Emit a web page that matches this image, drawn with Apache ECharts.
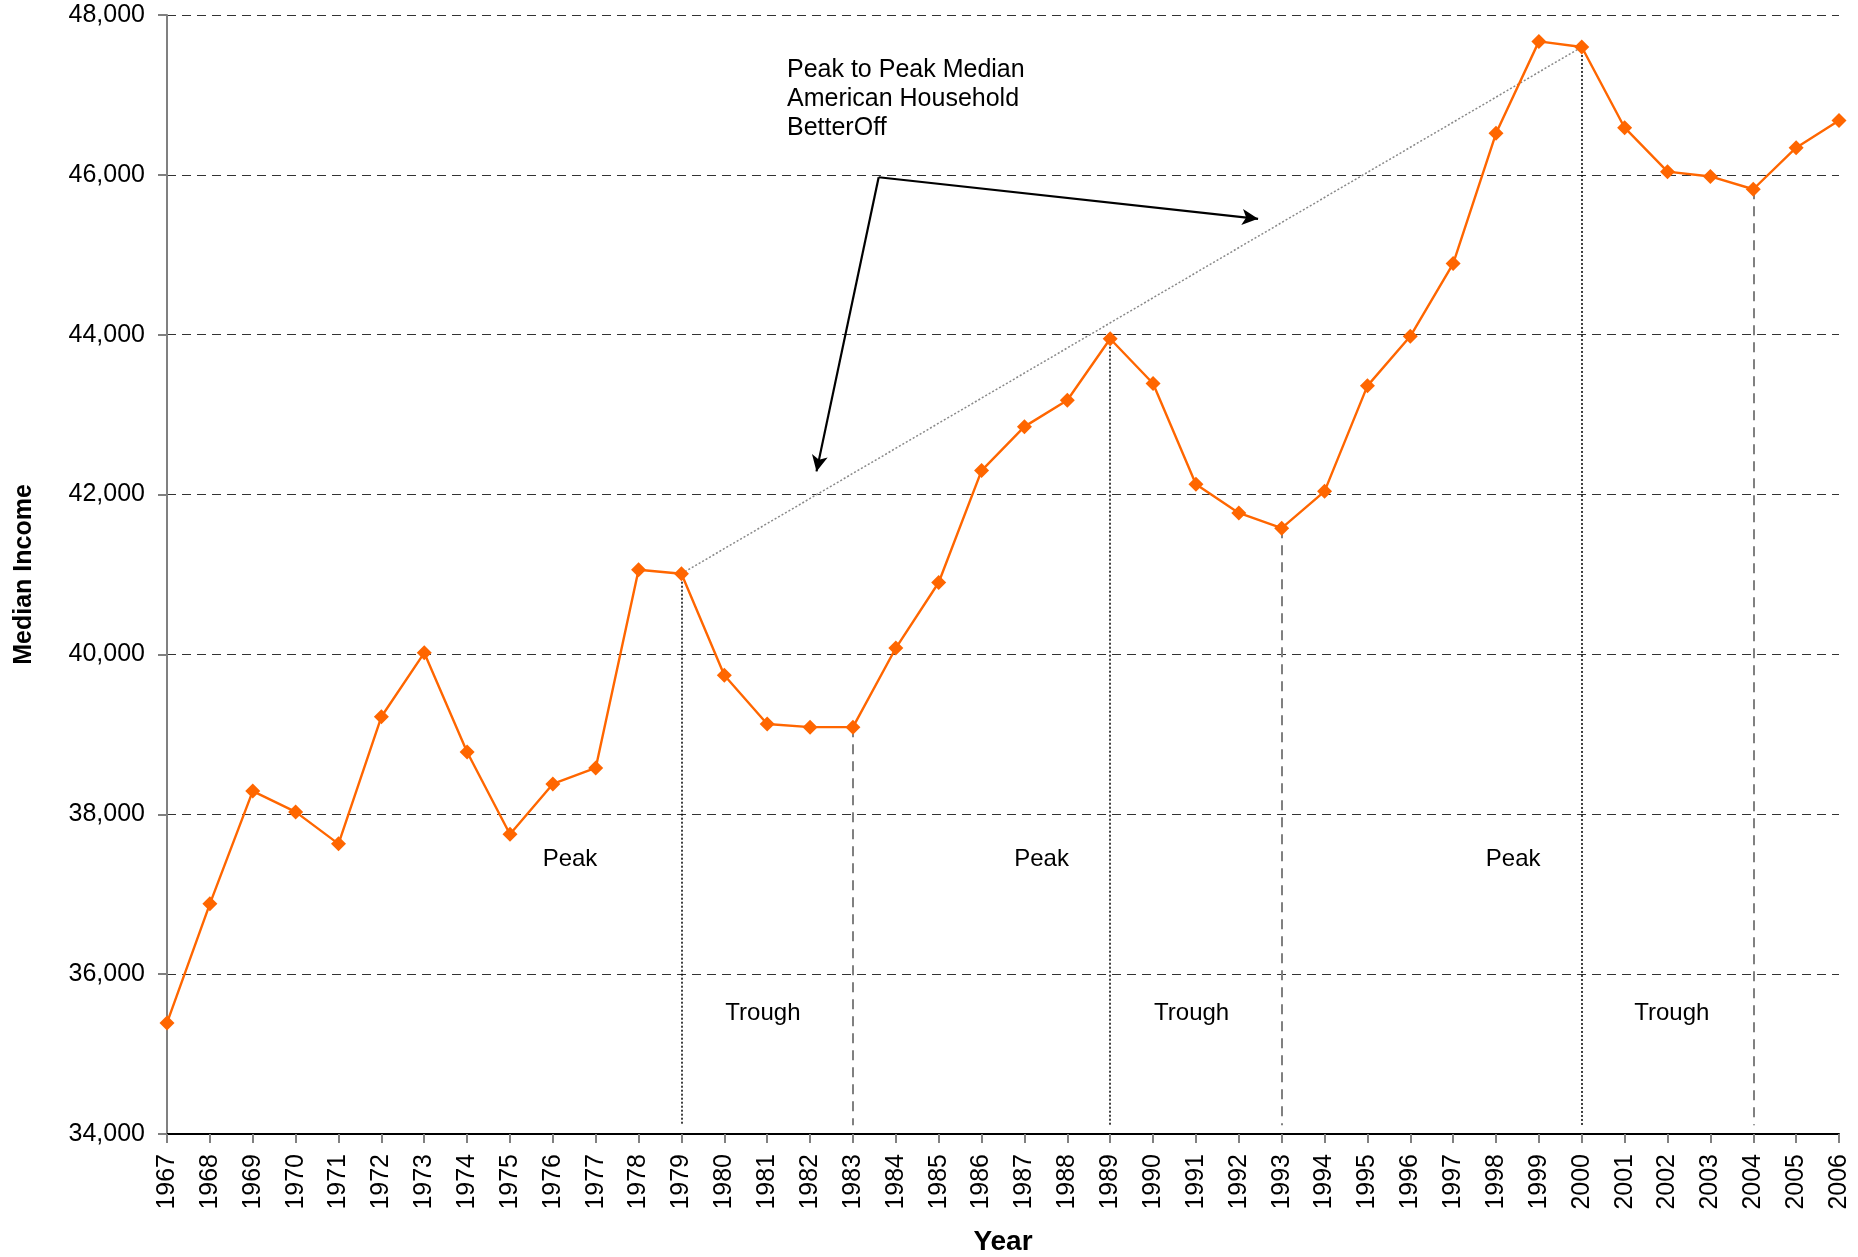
<!DOCTYPE html>
<html>
<head>
<meta charset="utf-8">
<script src="https://cdn.jsdelivr.net/npm/echarts@6/dist/echarts.min.js"></script>
<style>
  html, body { margin: 0; padding: 0; background: #fff; }
  #main { width: 1858px; height: 1257px; }
</style>
</head>
<body>
<div id="main"></div>
<script>
// median household income by year
var years = [1967, 1968, 1969, 1970, 1971, 1972, 1973, 1974, 1975, 1976,
             1977, 1978, 1979, 1980, 1981, 1982, 1983, 1984, 1985, 1986,
             1987, 1988, 1989, 1990, 1991, 1992, 1993, 1994, 1995, 1996,
             1997, 1998, 1999, 2000, 2001, 2002, 2003, 2004, 2005, 2006];
var income = [35390, 36880, 38290, 38030, 37630, 39220, 40020, 38780, 37750, 38380,
              38580, 41060, 41010, 39740, 39130, 39090, 39090, 40080, 40900, 42300,
              42850, 43180, 43950, 43390, 42130, 41770, 41580, 42040, 43360, 43980,
              44890, 46520, 47670, 47600, 46590, 46040, 45980, 45820, 46340, 46680];

var peakYears = [1979, 1989, 2000];
var troughYears = [1983, 1993, 2004];

// text labels: [x (year), y (income), text]
var phaseLabels = [
    [1976.4, 37430, 'Peak'], [1987.4, 37430, 'Peak'], [1998.4, 37430, 'Peak'],
    [1980.9, 35510, 'Trough'], [1990.9, 35510, 'Trough'], [2002.1, 35510, 'Trough']
];

// arrow: vertex and the two heads
var arrowVertex = [1983.6, 45970];
var arrowHeads = [[1982.15, 42290], [1992.45, 45450]];

var incomeOf = function (yr) { return income[years.indexOf(yr)]; };

var dropLines = [];
peakYears.forEach(function (yr) {
    dropLines.push([
        { coord: [yr, incomeOf(yr)], lineStyle: { type: [2, 2], color: '#000', width: 1.5 } },
        { coord: [yr, 34110] }
    ]);
});
troughYears.forEach(function (yr) {
    dropLines.push([
        { coord: [yr, incomeOf(yr)], lineStyle: { type: [10, 7], color: '#808080', width: 2 } },
        { coord: [yr, 34110] }
    ]);
});
// peak to peak trend
dropLines.push([
    { coord: [1979, incomeOf(1979)], lineStyle: { type: [2, 2], color: '#888', width: 1.5 } },
    { coord: [2000, incomeOf(2000)] }
]);

var arrowLines = arrowHeads.map(function (h) {
    return [{ coord: arrowVertex }, { coord: h }];
});

var myChart = echarts.init(document.getElementById('main'));
var font = '"Liberation Sans", Arial, sans-serif';

var options = {
    animation: false,
    backgroundColor: '#fff',
    textStyle: { fontFamily: font },
    grid: { left: 167, right: 19, top: 15, bottom: 123, outerBoundsMode: 'none', containLabel: false },
    xAxis: {
        type: 'value',
        min: 1967,
        max: 2006,
        interval: 1,
        name: 'Year',
        nameLocation: 'middle',
        nameGap: 94,
        nameTextStyle: { fontSize: 28, fontWeight: 'bold', color: '#000', fontFamily: font },
        axisLine: { lineStyle: { color: '#000', width: 2 } },
        axisTick: { length: 9, lineStyle: { color: '#808080', width: 2 } },
        axisLabel: { rotate: 90, fontSize: 25, color: '#000', margin: 20, fontFamily: font,
                     formatter: function (v) { return String(v); } },
        splitLine: { show: false }
    },
    yAxis: {
        type: 'value',
        min: 34000,
        max: 48000,
        interval: 2000,
        name: 'Median Income',
        nameLocation: 'middle',
        nameGap: 130,
        nameTextStyle: { fontSize: 25, fontWeight: 'bold', color: '#000', fontFamily: font },
        axisLine: { show: true, lineStyle: { color: '#808080', width: 2 } },
        axisTick: { show: true, length: 9, lineStyle: { color: '#808080', width: 2 } },
        axisLabel: { fontSize: 25, color: '#000', margin: 22, fontFamily: font,
                     formatter: function (v) { return v.toLocaleString('en-US'); } },
        splitLine: { show: true, lineStyle: { color: '#333', type: [9, 6], width: 1.2 } }
    },
    series: [
        {
            type: 'line',
            data: years.map(function (y, i) { return [y, income[i]]; }),
            lineStyle: { color: '#ff6600', width: 2.4 },
            itemStyle: { color: '#ff6600' },
            symbol: 'diamond',
            symbolSize: 15,
            z: 5,
            markLine: {
                silent: true,
                symbol: 'none',
                label: { show: false },
                data: dropLines,
                z: 3
            }
        },
        {
            type: 'line',
            data: [],
            markLine: {
                silent: true,
                symbol: ['none', 'arrow'],
                symbolSize: [12, 16],
                label: { show: false },
                lineStyle: { color: '#000', width: 2.2, type: 'solid' },
                data: arrowLines
            },
            markPoint: {
                silent: true,
                symbol: 'circle',
                symbolSize: 0,
                label: {
                    show: true,
                    position: 'inside',
                    fontSize: 24,
                    color: '#000',
                    fontFamily: font,
                    formatter: function (p) { return p.name; }
                },
                data: phaseLabels.map(function (d) { return { name: d[2], coord: [d[0], d[1]] }; })
            }
        }
    ],
    graphic: [{
        type: 'text',
        left: 787,
        top: 56,
        style: {
            text: 'Peak to Peak Median\nAmerican Household\nBetterOff',
            font: '25px ' + font,
            lineHeight: 29,
            fill: '#000'
        }
    }]
};
myChart.setOption(options, true);
</script>
</body>
</html>
